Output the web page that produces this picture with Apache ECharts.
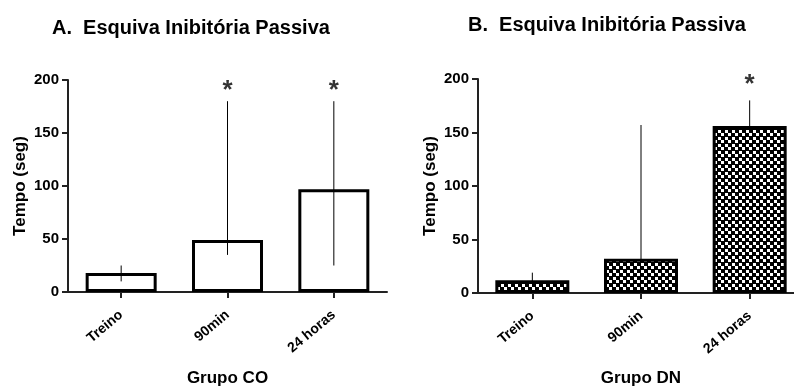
<!DOCTYPE html>
<html>
<head>
<meta charset="utf-8">
<script src="https://cdn.jsdelivr.net/npm/echarts@6/dist/echarts.min.js"></script>
<style>
  html, body { margin: 0; padding: 0; background: #fff; }
  #main { width: 794px; height: 388px; }
</style>
</head>
<body>
<div id="main"></div>
<script>
// categorias e valores
var categorias = ['Treino', '90min', '24 horas'];

// Grupo CO (média e limites da barra de erro)
var coMedia = [18, 49, 97];
var coMin = [10, 35, 25];
var coMax = [25, 180, 180];
var coAsterisco = [null, 190, 190];

// Grupo DN
var dnMedia = [12, 32, 156];
var dnMin = [5, 0, 132];
var dnMax = [19, 157, 180];
var dnAsterisco = [null, null, 195];

var yTicks = [0, 50, 100, 150, 200];

var fonte = 'Liberation Sans, Arial, sans-serif';

// padrão xadrez para as barras do grupo DN
function xadrez() {
    var c = document.createElement('canvas');
    c.width = 7; c.height = 7;
    var ctx = c.getContext('2d');
    ctx.fillStyle = '#000';
    ctx.fillRect(0, 0, 7, 7);
    ctx.fillStyle = '#fff';
    ctx.fillRect(0, 0, 3, 3);
    ctx.fillRect(4, 4, 3, 3);
    return c;
}

var myChart = echarts.init(document.getElementById('main'));

function eixoY(idx) {
    return {
        gridIndex: idx,
        type: 'value',
        min: yTicks[0],
        max: yTicks[yTicks.length - 1],
        interval: 50,
        name: 'Tempo (seg)',
        nameLocation: 'middle',
        nameGap: 39,
        nameTextStyle: { fontFamily: fonte, fontWeight: 'bold', fontSize: 17, color: '#000' },
        axisLine: { show: true, lineStyle: { color: '#222', width: 2 } },
        axisTick: { show: true, length: 6, lineStyle: { color: '#222', width: 2 } },
        axisLabel: { fontFamily: fonte, fontWeight: 'bold', fontSize: 15, color: '#000', margin: 9 },
        splitLine: { show: false }
    };
}

function eixoX(idx, nome, gap) {
    return {
        gridIndex: idx,
        type: 'category',
        data: categorias,
        name: nome,
        nameLocation: 'middle',
        nameGap: gap,
        nameTextStyle: { fontFamily: fonte, fontWeight: 'bold', fontSize: 17, color: '#000' },
        axisLine: { show: true, lineStyle: { color: '#222', width: 2 } },
        axisTick: { show: true, alignWithLabel: true, length: 6, lineStyle: { color: '#222', width: 2 } },
        axisLabel: { fontFamily: fonte, fontWeight: 'bold', fontSize: 14, color: '#000', rotate: 40, margin: 21, interval: 0 },
        splitLine: { show: false }
    };
}

function erros(idx, min, max, z) {
    return {
        type: 'custom',
        xAxisIndex: idx,
        yAxisIndex: idx,
        z: z,
        silent: true,
        data: min.map(function (v, i) { return [i, v, max[i]]; }),
        renderItem: function (params, api) {
            var a = api.coord([api.value(0), api.value(1)]);
            var b = api.coord([api.value(0), api.value(2)]);
            return {
                type: 'line',
                shape: { x1: a[0], y1: a[1], x2: b[0], y2: b[1] },
                style: { stroke: '#000', lineWidth: 1 }
            };
        }
    };
}

function asteriscos(idx, valores) {
    return {
        type: 'scatter',
        xAxisIndex: idx,
        yAxisIndex: idx,
        symbolSize: 2,
        z: 5,
        itemStyle: { color: 'rgba(0,0,0,0)' },
        silent: true,
        data: valores.map(function (v, i) { return v == null ? null : [i, v]; }).filter(function (d) { return d; }),
        label: {
            show: true,
            position: 'inside',
            formatter: '*',
            fontFamily: fonte,
            fontWeight: 'bold',
            fontSize: 26,
            color: '#000'
        }
    };
}

var option = {
    backgroundColor: '#fff',
    animation: false,
    title: [
        {
            text: 'A.  Esquiva Inibitória Passiva',
            left: 47, top: 13,
            textStyle: { fontFamily: fonte, fontWeight: 'bold', fontSize: 20, color: '#000' }
        },
        {
            text: 'B.  Esquiva Inibitória Passiva',
            left: 463, top: 10,
            textStyle: { fontFamily: fonte, fontWeight: 'bold', fontSize: 20, color: '#000' }
        }
    ],
    grid: [
        { left: 68, top: 80, width: 319, height: 212, outerBoundsMode: 'none' },
        { left: 478, top: 79, width: 326, height: 214, outerBoundsMode: 'none' }
    ],
    xAxis: [eixoX(0, 'Grupo CO', 78), eixoX(1, 'Grupo DN', 77)],
    yAxis: [eixoY(0), eixoY(1)],
    series: [
        {
            type: 'bar',
            xAxisIndex: 0,
            yAxisIndex: 0,
            barWidth: 71,
            z: 2,
            data: coMedia,
            itemStyle: { color: '#fff', borderColor: '#000', borderWidth: 3 }
        },
        erros(0, coMin, coMax, 3),
        asteriscos(0, coAsterisco),
        erros(1, dnMin, dnMax, 1),
        {
            type: 'bar',
            xAxisIndex: 1,
            yAxisIndex: 1,
            barWidth: 74,
            z: 2,
            data: dnMedia,
            itemStyle: {
                color: { image: xadrez(), repeat: 'repeat' },
                borderColor: '#000',
                borderWidth: 3
            }
        },
        asteriscos(1, dnAsterisco)
    ]
};

myChart.setOption(option);

window.onresize = function () {
    myChart.resize();
};
</script>
</body>
</html>
